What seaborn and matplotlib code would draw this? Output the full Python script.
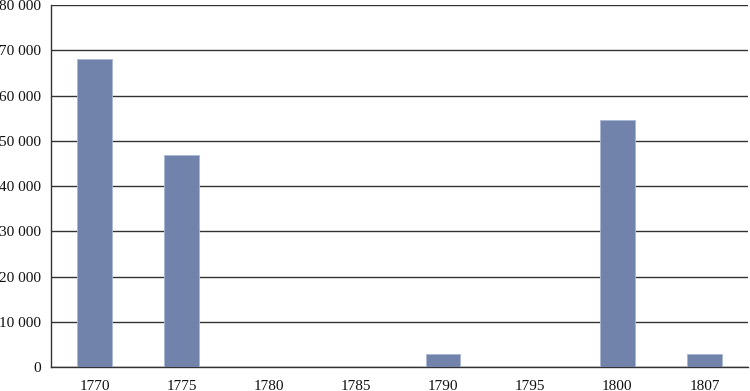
import pandas as pd
import seaborn as sns
import matplotlib.pyplot as plt
from matplotlib.ticker import FuncFormatter

# Data
years = ['1770', '1775', '1780', '1785', '1790', '1795', '1800', '1807']
values = [68100, 46800, 0, 0, 2800, 0, 54500, 2800]

df = pd.DataFrame({'year': years, 'value': values})

sns.set_style('white')
plt.rcParams['font.family'] = ['Liberation Serif', 'DejaVu Serif']

fig = plt.figure(figsize=(7.5, 3.91), dpi=100)
ax = fig.add_axes([51 / 750, 1 - 367 / 391, 697 / 750, 362 / 391])

sns.barplot(x='year', y='value', data=df, color='#7183aa', saturation=1,
            width=0.4, edgecolor='#a9b7d3', linewidth=0.6, ax=ax, zorder=3)

ax.set_ylim(0, 80000)
ax.set_yticks(range(0, 80001, 10000))
ax.yaxis.set_major_formatter(FuncFormatter(lambda v, p: f'{int(v):,}'.replace(',', ' ')))
ax.yaxis.grid(True, color='#333333', linewidth=1)
ax.set_axisbelow(True)
ax.set(xlabel='', ylabel='')
ax.tick_params(axis='both', length=0, labelsize=11, colors='#111111')
ax.tick_params(axis='x', pad=9)
ax.tick_params(axis='y', pad=7)

for s in ['top', 'right']:
    ax.spines[s].set_visible(False)
ax.spines['left'].set_color('#333333')
ax.spines['bottom'].set_color('#333333')
ax.spines['left'].set_linewidth(1)
ax.spines['bottom'].set_linewidth(1)

fig.savefig('out.png', dpi=100)
